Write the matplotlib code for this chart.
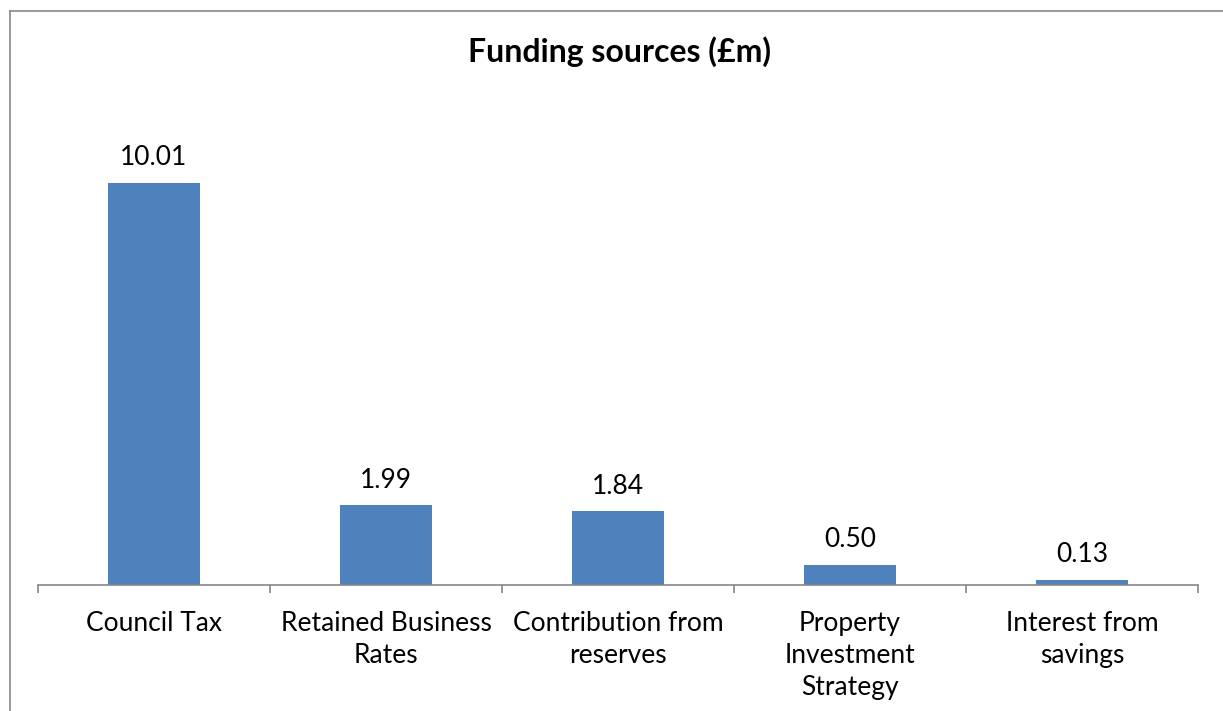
import numpy as np
import matplotlib.pyplot as plt
from matplotlib.lines import Line2D

# funding sources data
categories = ["Council Tax", "Retained Business\nRates", "Contribution from\nreserves",
              "Property\nInvestment\nStrategy", "Interest from\nsavings"]
values = [10.01, 1.99, 1.84, 0.50, 0.13]
value_labels = ["10.01", "1.99", "1.84", "0.50", "0.13"]

plt.rcParams['font.family'] = ['Lato', 'DejaVu Sans']

fig = plt.figure(figsize=(12.23, 7.11), dpi=100)
W, H = 1223, 711
ax = fig.add_axes([38 / W, (H - 585) / H, (1198 - 38) / W, 482 / H])

x = np.arange(len(categories))
bars = ax.bar(x, values, width=0.4, color="#4F81BD", zorder=2)

for b, lab in zip(bars, value_labels):
    ax.annotate(lab, (b.get_x() + b.get_width() / 2, b.get_height()),
                xytext=(0, 9), textcoords="offset points",
                ha="center", va="bottom", fontsize=19)

ax.set_xlim(-0.5, len(categories) - 0.5)
ax.set_ylim(0, 12)
ax.set_xticks(x)
ax.set_xticklabels(categories, fontsize=19, linespacing=1.36)
ax.set_xticks(np.arange(len(categories) + 1) - 0.5, minor=True)
ax.tick_params(axis="x", which="major", length=0, pad=18.5)
ax.tick_params(axis="x", which="minor", length=6, color="#868686", width=1.2)
ax.set_yticks([])
for s in ["top", "right", "left"]:
    ax.spines[s].set_visible(False)
ax.spines["bottom"].set_color("#868686")
ax.spines["bottom"].set_linewidth(1.2)

fig.text(619 / W, 1 - 52 / H, "Funding sources (£m)", ha="center", va="center",
         fontsize=23, fontweight="bold")

# chart area border (top and left visible)
fig.add_artist(Line2D([10 / W, 1.0], [1 - 11 / H, 1 - 11 / H], color="#868686", lw=1.2))
fig.add_artist(Line2D([10 / W, 10 / W], [0, 1 - 11 / H], color="#868686", lw=1.2))

fig.savefig("out.png", dpi=100)
